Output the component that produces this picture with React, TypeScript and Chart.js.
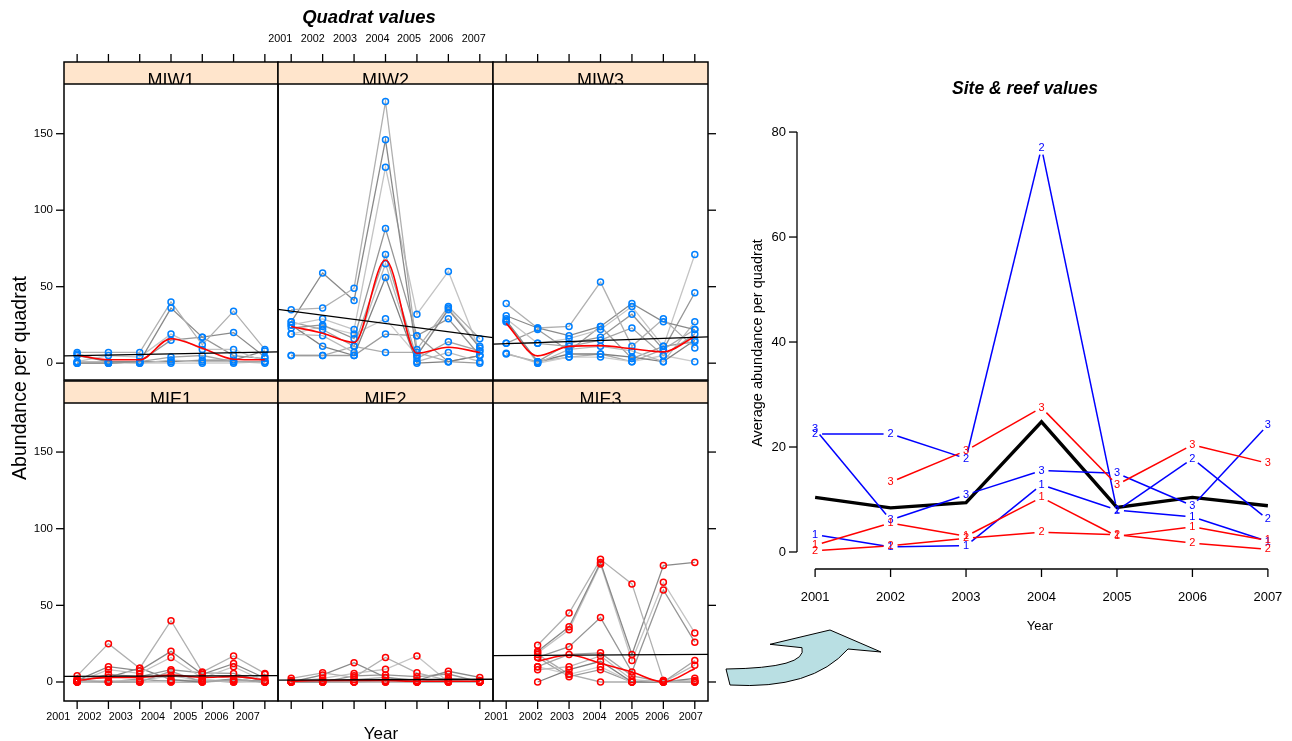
import React, { useEffect, useRef } from 'react';
import { Chart, registerables } from 'chart.js';
Chart.register(...registerables);

// ---------------- DATA ----------------
const years = [2001, 2002, 2003, 2004, 2005, 2006, 2007];
const siteNames = ['MIW1', 'MIW2', 'MIW3', 'MIE1', 'MIE2', 'MIE3'];
const yTicks = [0, 50, 100, 150];

const miw1Quadrats: (number | null)[][] = [
  [7, 7, 7, 40, 12, 34, 9],
  [5, 1, 1, 36, 17, 20, 4],
  [1, 5, 4, 19, 9, 9, 1],
  [0, 0, 1, 15, 17, 5, 3],
  [6, 1, 1, 4, 5, 1, 1],
  [1, 1, 0, 2, 1, 1, 0],
  [0, 0, 1, 1, 2, 2, 8],
  [0, 0, 0, 0, 0, 0, 1],
];
const miw2Quadrats: (number | null)[][] = [
  [35, 36, 49, 171, 9, 37, 16],
  [27, 59, 41, 146, 5, 35, 10],
  [25, 29, 22, 128, 32, 60, 8],
  [23, 25, 16, 88, 18, 29, 5],
  [27, 22, 11, 71, 3, 14, 8],
  [19, 18, 7, 65, 1, 7, 1],
  [25, 11, 5, 56, 0, 1, 5],
  [19, 24, 19, 29, 5, 36, 11],
  [5, 5, 5, 19, 18, 1, 0],
  [5, 5, 11, 7, 7, 1, 5],
];
const miw3Quadrats: (number | null)[][] = [
  [39, 23, 24, 53, 11, 29, 10],
  [31, 23, 18, 24, 39, 27, 22],
  [29, 13, 16, 22, 37, 11, 71],
  [27, 1, 13, 17, 32, 9, 46],
  [13, 13, 11, 15, 23, 5, 19],
  [6.5, 0, 9, 11, 8, 1, 27],
  [28, 1, 6, 6, 4, 1, 15],
  [27, 0, 4, 4, 1, 5, 1],
  [13, 22, 8, 24, 3, 11, 14],
  [6, 1, 4, 6, 1, 9, 22],
];
const mie1Quadrats: (number | null)[][] = [
  [4, 25, 9, 40, 6.5, 17, 5.6],
  [1, 10, 7.4, 20, 5, 12, 2.6],
  [0, 8, 5.6, 16, 2.6, 10, 0.5],
  [0, 5, 3.5, 8, 6, 5.6, 0],
  [1, 0, 0, 7, 0, 1.5, 0],
  [0, 0, 1, 4, 1, 0, 5],
  [2, 3, 9, 1.5, 0, 2, 0],
  [0, 1, 0, 0, 2, 0, 0],
  [0, 0, 2, 0, 0, 1, 0],
  [1, 0, 0, 1, 1, 0, 1],
];
const mie2Quadrats: (number | null)[][] = [
  [2.4, 6, 3, 16, 6, 1, 0],
  [0, 4.6, 12.6, 3, 1, 7, 3],
  [0, 2.4, 5.6, 8.3, 17, 0, 0],
  [0, 0, 4, 4.6, 3.5, 5.2, 0],
  [0, 0, 1.5, 3, 0, 2.4, 1],
  [0, 0, 0, 0, 0, 0, 0],
  [1, 0, 0, 1, 0, 0, 0],
  [0, 1, 0, 0, 0, 0, 0.5],
  [0, 0, 0, 0, 0, 1, 0],
];
const mie3Quadrats: (number | null)[][] = [
  [null, 24, 45, 80, 64, 1, 0],
  [null, 20, 36, 78, 18, 76, 78],
  [null, 19, 34, 77, 14, 65, 32],
  [null, 16, 23, 42, 6.5, 60, 26],
  [null, 10, 18, 19, 4, 0, 14],
  [null, 8, 10, 17, 1.5, 0, 11],
  [null, 0, 8, 13.5, 0, 0, 2.4],
  [null, 10, 5, 10, 0, 0, 1],
  [null, 16, 3.5, 8, 0, 0, 0],
  [null, 18, 5, 0, 0, 1, 0],
];

const miw1Mean = [5.2, 2.2, 2.2, 16, 9.8, 2.6, 2.2];
const miw2Mean = [24, 19.6, 13.5, 67.4, 6.5, 10.4, 7];
const miw3Mean = [26, 4.8, 11, 11.5, 9.4, 7.4, 17.4];
const mie1Mean = [1, 3, 3, 4.5, 3, 3.5, 1.5];
const mie2Mean = [0.5, 1, 1, 1, 0.5, 0.5, 0.5];
const mie3Mean: (number | null)[] = [null, 13.5, 17.6, 12.2, 6.5, 0, 8.7];

// straight trend line values at the left and right panel edges
const trendStart = [4.8, 35.2, 12.4, 3.6, 1.2, 17.2];
const trendEnd = [7.4, 16.7, 17.2, 4.2, 1.8, 18];

// site & reef values
const reefYTicks = [0, 20, 40, 60, 80];
const miwSite1 = [3.3, 1.0, 1.2, 12.8, 8.0, 6.7, 2.0];
const miwSite2 = [22.5, 22.5, 17.8, 77, 7.9, 17.8, 6.2];
const miwSite3 = [23.4, 6.1, 10.9, 15.5, 15.0, 8.8, 24.2];
const mieSite1 = [1.3, 5.5, 3.0, 10.4, 3.0, 4.8, 2.2];
const mieSite2 = [0.25, 1.2, 2.6, 3.75, 3.3, 1.7, 0.5];
const mieSite3: (number | null)[] = [null, 13.3, 19.3, 27.5, 12.8, 20.4, 16.9];
const overallMean = [10.4, 8.4, 9.4, 24.8, 8.5, 10.4, 8.8];

// ---------------- LAYOUT / STYLE ----------------
const W = 1292;
const H = 741;
const FONT = '"Liberation Sans", Arial, Helvetica, sans-serif';
const X_MIN = 2000.58;
const X_MAX = 2007.42;
const COLS = [
  [64, 278],
  [278, 493],
  [493, 708],
];
const ROWS = [
  { strip: 62, top: 84, bottom: 380, yMin: -11, yMax: 182.5 },
  { strip: 381, top: 403, bottom: 701, yMin: -12.4, yMax: 182 },
];
const GREYS = ['#b0b0b0', '#8a8a8a', '#c4c4c4', '#969696', '#a4a4a4', '#bababa', '#808080', '#cccccc', '#9c9c9c', '#acacac'];
const TOP_LABEL_OFFSETS = [-11, -10, -9, -8, -8, -7, -6];
const BOTTOM_LABEL_OFFSETS_LEFT = [-19, -19, -19, -18, -17, -17, -17];
const BOTTOM_LABEL_OFFSETS_RIGHT = [-10, -7, -7, -6, -5, -6, -4];

const quadratsBySite = [miw1Quadrats, miw2Quadrats, miw3Quadrats, mie1Quadrats, mie2Quadrats, mie3Quadrats];
const meansBySite = [miw1Mean, miw2Mean, miw3Mean, mie1Mean, mie2Mean, mie3Mean];

type PanelCfg = {
  name: string;
  strip: number;
  topTicks: boolean;
  topLabels: boolean;
  bottomTicks: boolean;
  bottomLabelOffsets: number[] | null;
  leftTicks: boolean;
  leftLabels: boolean;
  rightTicks: boolean;
};

function panelPlugin(p: PanelCfg) {
  return {
    id: 'panelDeco',
    afterDraw(chart: any) {
      const ctx: CanvasRenderingContext2D = chart.ctx;
      const { left, right, top, bottom } = chart.chartArea;
      const xs = chart.scales.x;
      const ys = chart.scales.y;
      ctx.save();
      // strip
      ctx.fillStyle = '#ffe5cc';
      ctx.fillRect(left, p.strip, right - left, top - p.strip);
      ctx.save();
      ctx.beginPath();
      ctx.rect(left, p.strip, right - left, top - p.strip);
      ctx.clip();
      ctx.fillStyle = '#000';
      ctx.font = '18px ' + FONT;
      ctx.textAlign = 'center';
      ctx.textBaseline = 'alphabetic';
      ctx.fillText(p.name, (left + right) / 2, top + 1.5);
      ctx.restore();
      // frame
      ctx.strokeStyle = '#000';
      ctx.lineWidth = 1.5;
      ctx.strokeRect(left, p.strip, right - left, bottom - p.strip);
      ctx.beginPath();
      ctx.moveTo(left, top);
      ctx.lineTo(right, top);
      ctx.stroke();
      // ticks
      ctx.lineWidth = 1.3;
      ctx.fillStyle = '#000';
      ctx.font = '10.8px ' + FONT;
      ctx.textAlign = 'center';
      ctx.textBaseline = 'middle';
      years.forEach((yr, j) => {
        const x = xs.getPixelForValue(yr);
        if (p.topTicks) {
          ctx.beginPath();
          ctx.moveTo(x, p.strip - 8);
          ctx.lineTo(x, p.strip);
          ctx.stroke();
          if (p.topLabels) ctx.fillText(String(yr), x + TOP_LABEL_OFFSETS[j], 39);
        }
        if (p.bottomTicks) {
          ctx.beginPath();
          ctx.moveTo(x, bottom);
          ctx.lineTo(x, bottom + 8);
          ctx.stroke();
          if (p.bottomLabelOffsets) ctx.fillText(String(yr), x + p.bottomLabelOffsets[j], 717);
        }
      });
      ctx.font = '11.5px ' + FONT;
      ctx.textAlign = 'right';
      yTicks.forEach((v) => {
        const y = ys.getPixelForValue(v);
        if (p.leftTicks) {
          ctx.beginPath();
          ctx.moveTo(left - 8, y);
          ctx.lineTo(left, y);
          ctx.stroke();
          if (p.leftLabels) ctx.fillText(String(v), left - 11, y);
        }
        if (p.rightTicks) {
          ctx.beginPath();
          ctx.moveTo(right, y);
          ctx.lineTo(right + 8, y);
          ctx.stroke();
        }
      });
      ctx.restore();
    },
  };
}

const GAP = 7;
const reefPlugin = {
  id: 'reefDeco',
  afterDatasetsDraw(chart: any) {
    const ctx: CanvasRenderingContext2D = chart.ctx;
    chart.data.datasets.forEach((ds: any, i: number) => {
      if (!ds.siteLabel) return;
      const pts = chart.getDatasetMeta(i).data;
      ctx.save();
      ctx.strokeStyle = ds.siteColor;
      ctx.lineWidth = 1.5;
      for (let j = 0; j < pts.length - 1; j++) {
        const a = pts[j];
        const b = pts[j + 1];
        if (a.skip || b.skip) continue;
        const dx = b.x - a.x;
        const dy = b.y - a.y;
        const L = Math.hypot(dx, dy);
        if (L < 2 * GAP) continue;
        const ux = dx / L;
        const uy = dy / L;
        ctx.beginPath();
        ctx.moveTo(a.x + ux * GAP, a.y + uy * GAP);
        ctx.lineTo(b.x - ux * GAP, b.y - uy * GAP);
        ctx.stroke();
      }
      ctx.fillStyle = ds.siteColor;
      ctx.font = '11px ' + FONT;
      ctx.textAlign = 'center';
      ctx.textBaseline = 'middle';
      pts.forEach((pt: any) => {
        if (!pt.skip) ctx.fillText(ds.siteLabel, pt.x, pt.y);
      });
      ctx.restore();
    });
  },
  afterDraw(chart: any) {
    const ctx: CanvasRenderingContext2D = chart.ctx;
    const { left, bottom } = chart.chartArea;
    const xs = chart.scales.x;
    const ys = chart.scales.y;
    ctx.save();
    ctx.strokeStyle = '#000';
    ctx.fillStyle = '#000';
    ctx.lineWidth = 1.3;
    ctx.beginPath();
    ctx.moveTo(left, ys.getPixelForValue(reefYTicks[0]));
    ctx.lineTo(left, ys.getPixelForValue(reefYTicks[reefYTicks.length - 1]));
    ctx.stroke();
    ctx.font = '13px ' + FONT;
    ctx.textAlign = 'right';
    ctx.textBaseline = 'middle';
    reefYTicks.forEach((v) => {
      const y = ys.getPixelForValue(v);
      ctx.beginPath();
      ctx.moveTo(left - 8, y);
      ctx.lineTo(left, y);
      ctx.stroke();
      ctx.fillText(String(v), left - 11, y);
    });
    ctx.beginPath();
    ctx.moveTo(xs.getPixelForValue(years[0]), bottom);
    ctx.lineTo(xs.getPixelForValue(years[years.length - 1]), bottom);
    ctx.stroke();
    ctx.textAlign = 'center';
    years.forEach((yr) => {
      const x = xs.getPixelForValue(yr);
      ctx.beginPath();
      ctx.moveTo(x, bottom);
      ctx.lineTo(x, bottom + 8);
      ctx.stroke();
      ctx.fillText(String(yr), x, bottom + 28);
    });
    ctx.restore();
  },
};

function toPoints(vals: (number | null)[]) {
  return years.map((yr, j) => ({ x: yr, y: vals[j] }));
}

function Label(props: { x: number; y: number; text: string; size: number; bold?: boolean; rotate?: boolean }) {
  const { x, y, text, size, bold, rotate } = props;
  return (
    <div
      style={{
        position: 'absolute',
        left: x,
        top: y,
        transform: 'translate(-50%, -50%)' + (rotate ? ' rotate(-90deg)' : ''),
        fontFamily: FONT,
        fontSize: size,
        fontWeight: bold ? 'bold' : 'normal',
        fontStyle: bold ? 'italic' : 'normal',
        whiteSpace: 'nowrap',
        lineHeight: 1,
        color: '#000',
      }}
    >
      {text}
    </div>
  );
}

export default function App() {
  const panelRefs = useRef<(HTMLCanvasElement | null)[]>([]);
  const reefRef = useRef<HTMLCanvasElement | null>(null);

  useEffect(() => {
    const charts: Chart[] = [];
    siteNames.forEach((name, i) => {
      const canvas = panelRefs.current[i];
      if (!canvas) return;
      const rowIdx = Math.floor(i / 3);
      const colIdx = i % 3;
      const row = ROWS[rowIdx];
      const col = COLS[colIdx];
      const color = rowIdx === 0 ? '#0080ff' : '#ff0000';
      const qs = quadratsBySite[i];
      const datasets: any[] = [];
      qs.forEach((q, k) => {
        datasets.push({
          data: toPoints(q),
          borderColor: GREYS[k % GREYS.length],
          borderWidth: 1.3,
          pointRadius: 0,
          spanGaps: false,
          order: 3,
        });
      });
      const allPts: { x: number; y: number }[] = [];
      qs.forEach((q) =>
        years.forEach((yr, j) => {
          const v = q[j];
          if (v !== null) allPts.push({ x: yr, y: v });
        })
      );
      datasets.push({
        data: allPts,
        showLine: false,
        pointRadius: 3,
        pointBorderWidth: 1.5,
        pointBorderColor: color,
        pointBackgroundColor: 'rgba(0,0,0,0)',
        order: 2,
      });
      datasets.push({
        data: toPoints(meansBySite[i]),
        borderColor: '#ff0000',
        borderWidth: 1.6,
        pointRadius: 0,
        cubicInterpolationMode: 'monotone',
        order: 1,
      });
      datasets.push({
        data: [
          { x: X_MIN, y: trendStart[i] },
          { x: X_MAX, y: trendEnd[i] },
        ],
        borderColor: '#000',
        borderWidth: 1.3,
        pointRadius: 0,
        order: 0,
      });
      const cfg: PanelCfg = {
        name,
        strip: row.strip,
        topTicks: rowIdx === 0,
        topLabels: rowIdx === 0 && colIdx === 1,
        bottomTicks: rowIdx === 1,
        bottomLabelOffsets: rowIdx === 1 ? (colIdx === 0 ? BOTTOM_LABEL_OFFSETS_LEFT : colIdx === 2 ? BOTTOM_LABEL_OFFSETS_RIGHT : null) : null,
        leftTicks: colIdx === 0,
        leftLabels: colIdx === 0,
        rightTicks: colIdx === 2,
      };
      charts.push(
        new Chart(canvas, {
          type: 'line',
          data: { datasets },
          options: {
            responsive: false,
            animation: false,
            events: [],
            layout: { padding: { left: col[0], right: W - col[1], top: row.top, bottom: H - row.bottom } },
            plugins: { legend: { display: false }, tooltip: { enabled: false } },
            scales: {
              x: { type: 'linear', display: false, min: X_MIN, max: X_MAX },
              y: { type: 'linear', display: false, min: row.yMin, max: row.yMax },
            },
          } as any,
          plugins: [panelPlugin(cfg)],
        })
      );
    });

    if (reefRef.current) {
      const siteSeries = [
        { vals: miwSite1, label: '1', color: '#0000ff' },
        { vals: miwSite2, label: '2', color: '#0000ff' },
        { vals: miwSite3, label: '3', color: '#0000ff' },
        { vals: mieSite1, label: '1', color: '#ff0000' },
        { vals: mieSite2, label: '2', color: '#ff0000' },
        { vals: mieSite3, label: '3', color: '#ff0000' },
      ];
      const datasets: any[] = siteSeries.map((s) => ({
        data: toPoints(s.vals),
        showLine: false,
        pointRadius: 0,
        siteLabel: s.label,
        siteColor: s.color,
      }));
      datasets.push({
        data: toPoints(overallMean),
        borderColor: '#000',
        borderWidth: 3.4,
        pointRadius: 0,
        order: 5,
      });
      charts.push(
        new Chart(reefRef.current, {
          type: 'line',
          data: { datasets },
          options: {
            responsive: false,
            animation: false,
            events: [],
            layout: { padding: { left: 797, right: W - 1286, top: 131, bottom: H - 569 } },
            plugins: { legend: { display: false }, tooltip: { enabled: false } },
            scales: {
              x: { type: 'linear', display: false, min: 2000.76, max: 2007.24 },
              y: { type: 'linear', display: false, min: -3.24, max: 80.2 },
            },
          } as any,
          plugins: [reefPlugin],
        })
      );
    }
    return () => charts.forEach((c) => c.destroy());
  }, []);

  const canvasStyle: React.CSSProperties = { position: 'absolute', left: 0, top: 0, width: W, height: H };

  return (
    <div style={{ position: 'absolute', left: 0, top: 0, width: W, height: H, background: '#fff', overflow: 'hidden' }}>
      {siteNames.map((n, i) => (
        <canvas
          key={n}
          width={W}
          height={H}
          style={canvasStyle}
          ref={(el) => {
            panelRefs.current[i] = el;
          }}
        />
      ))}
      <canvas width={W} height={H} style={canvasStyle} ref={reefRef} />
      <svg width={W} height={H} style={{ position: 'absolute', left: 0, top: 0 }}>
        <path
          d="M726,669 L730,685 Q812,690 848,649 L881,652 L830,630 L770,644.3 L802,647.7 Q808,668 726,669 Z"
          fill="#b9dfe3"
          stroke="#000"
          strokeWidth={1}
        />
      </svg>
      <Label x={369} y={17} text="Quadrat values" size={18.5} bold />
      <Label x={1025} y={89} text="Site & reef values" size={17.5} bold />
      <Label x={20} y={378} text="Abundance per quadrat" size={19.5} rotate />
      <Label x={381} y={733} text="Year" size={17} />
      <Label x={757} y={343} text="Average abundance per quadrat" size={14.5} rotate />
      <Label x={1040} y={625} text="Year" size={13} />
    </div>
  );
}
